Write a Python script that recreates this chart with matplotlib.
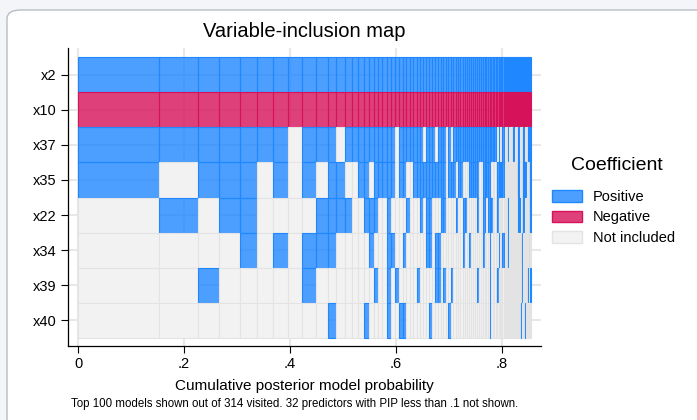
import matplotlib
matplotlib.use("Agg")
import matplotlib.pyplot as plt
import numpy as np
from matplotlib.patches import FancyBboxPatch, Patch

plt.rcParams['font.family'] = ['Liberation Sans', 'DejaVu Sans']

# variables shown (top to bottom)
variables = ["x2", "x10", "x37", "x35", "x22", "x34", "x39", "x40"]

# posterior probability of each of the top 100 models (sorted)
model_prob = [
    0.1530, 0.0736, 0.0396, 0.0396, 0.0321, 0.0302, 0.0283, 0.0264, 0.0264, 0.0221,
    0.0162, 0.0162, 0.0126, 0.0113, 0.0113, 0.0100,
    0.00868, 0.00849, 0.0083, 0.00811, 0.00774, 0.00755, 0.00736, 0.00717,
    0.00698, 0.00679, 0.0066, 0.00642, 0.00623, 0.00604, 0.00585, 0.00566,
    0.00547, 0.00538, 0.00528, 0.00519, 0.00509, 0.00491, 0.00481, 0.00472,
    0.00462, 0.00453, 0.00443, 0.00434, 0.00425, 0.00415, 0.00406, 0.00396,
    0.00387, 0.00377, 0.00377, 0.00368, 0.00368, 0.00358,
    0.00349, 0.0034, 0.0033, 0.00321, 0.00311, 0.00302, 0.00292, 0.00283, 0.00274, 0.00264,
    0.00255, 0.00245, 0.00236, 0.00226, 0.00226, 0.00217, 0.00208, 0.00208, 0.00198, 0.00198,
    0.00189, 0.00189, 0.00189, 0.00179, 0.00179, 0.00179, 0.0017, 0.0017, 0.0017, 0.0017,
    0.0016, 0.0016, 0.0016, 0.0016, 0.00151, 0.00151, 0.00151, 0.00151,
    0.00151, 0.00142, 0.00142, 0.00142, 0.00142, 0.00142, 0.00142, 0.00142,
]

# inclusion per variable, one character per model: 1 = positive, - = negative, 0 = not included
inc_x2 = "1" * 100
inc_x10 = "-" * 100
inc_x37 = ("1111111011101111"
           "111111011111" "110111011101" "011111111111" "111111111111"
           "010011000100" "001100001100" "001100001111")
inc_x35 = ("1011101010110011"
           "011111011001" "111111111101" "110110001111" "100111110000"
           "111111000000" "000000011100" "011111100011")
inc_x22 = ("0101100001111001"
           "110010000100" "010110001100" "001001100000" "100110111000"
           "100000000100" "000000001110" "011100000011")
inc_x34 = ("0000101011100000"
           "100011001000" "000110110000" "000001001000" "000100010000"
           "010011000100" "000000000000" "100000000010")
inc_x39 = ("0010000010000000"
           "010010100000" "100000110100" "100000000000" "100000010000"
           "100000000000" "000000000000" "100000001001")
inc_x40 = ("0000000000100001"
           "000010011000" "000010000001" "000000000000" "000000010000"
           "000000000000" "000000000001" "000010000000")

inclusion = [inc_x2, inc_x10, inc_x37, inc_x35, inc_x22, inc_x34, inc_x39, inc_x40]

pos_face = (0.12, 0.53, 1.0, 0.8)
pos_edge = "#1F87FF"
neg_face = (0.84, 0.07, 0.35, 0.8)
neg_edge = "#D6125A"
none_face = "#F2F2F2"
none_edge = "#E3E3E3"

fig = plt.figure(figsize=(6.97, 4.2), dpi=100)
fig.patch.set_facecolor("#F4F5F9")
frame = FancyBboxPatch((7 / 697, -0.2), 1.1, 1 - 10 / 420 + 0.2,
                       boxstyle="round,pad=0,rounding_size=0.02",
                       transform=fig.transFigure, facecolor="white",
                       edgecolor="#B8BCC4", linewidth=1.0, zorder=-10)
fig.patches.append(frame)

ax = fig.add_axes([68 / 697, 1 - 346 / 420, (541 - 68) / 697, (346 - 48) / 420])
ax.set_zorder(1)
ax.set_facecolor("none")

probs = np.array(model_prob)
starts = np.concatenate([[0], np.cumsum(probs)[:-1]])

for i, codes in enumerate(inclusion):
    faces, edges = [], []
    for c in codes:
        if c == "1":
            faces.append(pos_face); edges.append(pos_edge)
        elif c == "-":
            faces.append(neg_face); edges.append(neg_edge)
        else:
            faces.append(none_face); edges.append(none_edge)
    ax.bar(starts, 1.0, width=probs, bottom=i - 0.5, align="edge",
           color=faces, edgecolor=edges, linewidth=0.8, zorder=2)

ax.set_xlim(-0.0189, 0.8736)
ax.set_ylim(7.73, -0.76)
ax.set_xticks([0, 0.2, 0.4, 0.6, 0.8])
ax.set_xticklabels(["0", ".2", ".4", ".6", ".8"])
ax.set_yticks(range(len(variables)))
ax.set_yticklabels(variables)
ax.tick_params(axis="both", labelsize=10.5, length=5, width=0.8, color="black")
ax.tick_params(axis="x", pad=3)
ax.grid(True, color="#E8E8E8", linewidth=1.5, zorder=0)
ax.set_axisbelow(True)
for s in ["top", "right"]:
    ax.spines[s].set_visible(False)
ax.spines["left"].set_linewidth(0.9)
ax.spines["bottom"].set_linewidth(0.9)

ax.set_title("Variable-inclusion map", fontsize=14.5, pad=8)
ax.set_xlabel("Cumulative posterior model probability", fontsize=11, labelpad=6)
fig.text(71 / 697, 1 - 404 / 420,
         "Top 100 models shown out of 314 visited. 32 predictors with PIP less than .1 not shown.",
         fontsize=8.3, va="center", ha="left")

fig.text(617 / 697, 1 - 166 / 420, "Coefficient", fontsize=14, ha="center", va="center")
handles = [Patch(facecolor=pos_face, edgecolor=pos_edge, label="Positive"),
           Patch(facecolor=neg_face, edgecolor=neg_edge, label="Negative"),
           Patch(facecolor=none_face, edgecolor=none_edge, label="Not included")]
leg = fig.legend(handles=handles, loc="upper left",
                 bbox_to_anchor=(546 / 697, 1 - 184 / 420), frameon=False,
                 fontsize=10.5, handlelength=2.1, handleheight=0.85,
                 handletextpad=0.7, labelspacing=0.45, borderaxespad=0)

fig.savefig("out.png", dpi=100)
